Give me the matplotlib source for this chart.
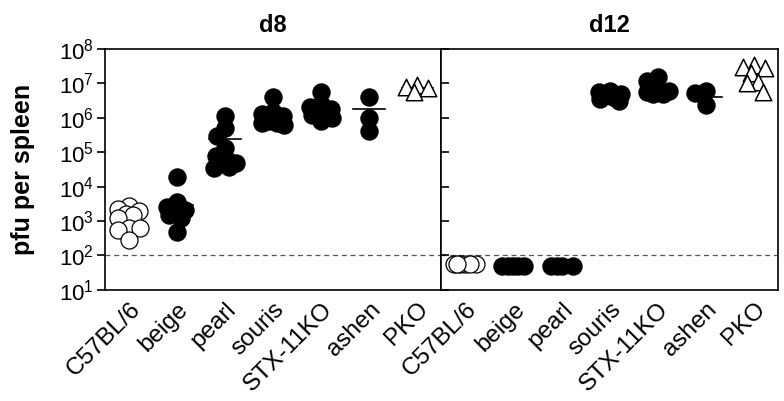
import numpy as np
import matplotlib
matplotlib.use("Agg")
import matplotlib.pyplot as plt

plt.rcParams['font.family'] = ['Liberation Sans', 'DejaVu Sans']
plt.rcParams['mathtext.fontset'] = 'custom'
plt.rcParams['mathtext.rm'] = 'Liberation Sans'
plt.rcParams['mathtext.it'] = 'Liberation Sans:italic'
plt.rcParams['mathtext.bf'] = 'Liberation Sans:bold'

strains = ["C57BL/6", "beige", "pearl", "souris", "STX-11KO", "ashen", "PKO"]
detection_limit = 100

# pfu per spleen, day 8
d8_c57 = [2800, 2200, 2000, 1600, 1500, 1250, 630, 620, 560, 280]
d8_beige = [19000, 3600, 2600, 2100, 2000, 1500, 1200, 480]
d8_pearl = [1.1e6, 5e5, 3e5, 1.3e5, 8e4, 6e4, 5e4, 4.5e4, 3.8e4, 3.5e4]
d8_souris = [4e6, 1.5e6, 1.3e6, 1.1e6, 8e5, 7e5, 7e5, 6e5]
d8_stx = [5.5e6, 2.5e6, 2e6, 1.8e6, 1.6e6, 1.4e6, 1.2e6, 1e6, 8e5]
d8_ashen = [4e6, 1e6, 4e5]
d8_pko = [9e6, 8e6, 7.5e6, 5.6e6]
d8_bars = [1300, 3000, 2.5e5, 1.5e6, 2.3e6, 1.8e6, 7.5e6]

# pfu per spleen, day 12 (below detection plotted at ~50)
d12_c57 = [55, 55, 55, 55, 55, 55]
d12_beige = [50, 50, 50, 50, 50]
d12_pearl = [50, 50, 50, 50]
d12_souris = [6e6, 5.5e6, 5e6, 4.5e6, 4e6, 3.5e6, 3e6]
d12_stx = [1.5e7, 1.2e7, 6.5e6, 6e6, 5.5e6, 5e6, 5e6]
d12_ashen = [6e6, 5.3e6, 2.3e6]
d12_pko = [3.3e7, 3e7, 2.8e7, 2e7, 1.1e7, 1e7, 5.6e6]
d12_bars = [55, 50, 50, 4.5e6, 6e6, 4e6, 2e7]

d8 = [d8_c57, d8_beige, d8_pearl, d8_souris, d8_stx, d8_ashen, d8_pko]
d12 = [d12_c57, d12_beige, d12_pearl, d12_souris, d12_stx, d12_ashen, d12_pko]
open_circle = [True, False, False, False, False, False, False]
triangle = [False, False, False, False, False, False, True]


def swarm(vals, px_per_dec=34.4, px_per_x=48.0, min_d=11.0, half_w=11):
    # beeswarm in pixel space, kept within +-half_w px; returns x offsets in data units
    yp = np.log10(vals) * px_per_dec
    order = np.argsort(-yp)
    placed = []
    offs = np.zeros(len(vals))
    cands = sorted(range(-half_w, half_w + 1), key=abs)
    for i in order:
        best, best_d = 0, -1
        for c in cands:
            d = min([np.hypot(c - px, yp[i] - py) for px, py in placed] or [1e9])
            if d >= min_d:
                best = c
                break
            if d > best_d + 0.5:
                best, best_d = c, d
        placed.append((best, yp[i]))
        offs[i] = best / px_per_x
    return offs


fig = plt.figure(figsize=(7.84, 4.01), dpi=100)
ax1 = fig.add_axes([0.134, 0.277, 0.429, 0.601])
ax2 = fig.add_axes([0.563, 0.277, 0.429, 0.601])

for ax, data, bars, title in [(ax1, d8, d8_bars, "d8"), (ax2, d12, d12_bars, "d12")]:
    for i, vals in enumerate(data):
        xs = i + swarm(vals)
        ax.plot([i - 0.33, i + 0.33], [bars[i], bars[i]], color='black', lw=1.2, zorder=2)
        if triangle[i]:
            ax.scatter(xs, vals, marker='^', s=140, facecolors='white',
                       edgecolors='black', linewidths=1.1, zorder=3)
        elif open_circle[i]:
            ax.scatter(xs, vals, marker='o', s=150, facecolors='white',
                       edgecolors='black', linewidths=0.9, zorder=3)
        else:
            ax.scatter(xs, vals, marker='o', s=150, color='black', zorder=3)
    ax.axhline(detection_limit, color='#555555', lw=0.9, ls=(0, (4, 3)), zorder=1)
    ax.set_yscale('log')
    ax.set_ylim(10, 1e8)
    ax.set_xlim(-0.5, 6.5)
    ax.set_xticks(range(len(strains)))
    ax.set_xticklabels(strains, rotation=45, ha='right', rotation_mode='anchor', fontsize=17.5)
    ax.tick_params(axis='x', length=0, pad=6)
    ax.minorticks_off()
    ax.set_title(title, fontsize=17, fontweight='bold', pad=12)
    for sp in ax.spines.values():
        sp.set_linewidth(1.2)

ax1.set_yticks([10 ** k for k in range(1, 9)])
ax1.tick_params(axis='y', which='major', labelsize=16, length=6, width=1.2, direction='out', pad=2)
ax1.set_ylabel("pfu per spleen", fontsize=18, fontweight='bold', labelpad=17)
ax2.set_yticks([10 ** k for k in range(1, 9)])
ax2.tick_params(axis='y', which='major', labelleft=False, length=6, width=1.2, direction='in')
ax2.minorticks_off()

fig.savefig("out.png", dpi=100)
